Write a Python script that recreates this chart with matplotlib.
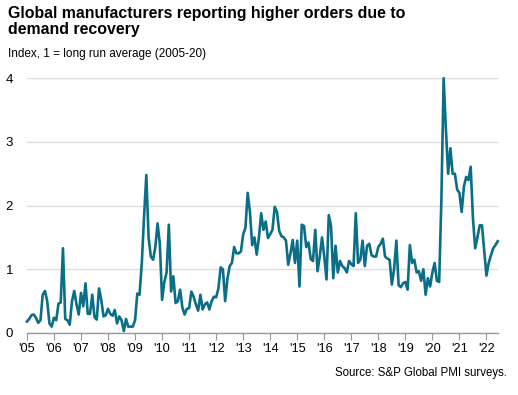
import numpy as np
import matplotlib
matplotlib.use('Agg')
import matplotlib.pyplot as plt
from matplotlib import font_manager

# monthly index values, Jan 2005 .. Jun 2022
values = [
    # 2005
    0.18, 0.22, 0.28, 0.29, 0.24, 0.16, 0.20, 0.60, 0.66, 0.50, 0.15, 0.10,
    # 2006
    0.24, 0.20, 0.46, 0.48, 1.33, 0.22, 0.20, 0.13, 0.50, 0.66, 0.45, 0.29,
    # 2007
    0.63, 0.42, 0.78, 0.30, 0.30, 0.60, 0.25, 0.21, 0.70, 0.52, 0.26, 0.28,
    # 2008
    0.38, 0.30, 0.27, 0.36, 0.15, 0.26, 0.20, 0.03, 0.22, 0.10, 0.10, 0.10,
    # 2009
    0.20, 0.62, 0.60, 1.10, 1.83, 2.48, 1.50, 1.20, 1.15, 1.35, 1.72, 1.40,
    # 2010
    0.52, 0.80, 0.95, 1.70, 0.65, 0.89, 0.47, 0.50, 0.68, 0.40, 0.29, 0.38,
    # 2011
    0.39, 0.65, 0.57, 0.45, 0.35, 0.60, 0.37, 0.45, 0.48, 0.37, 0.50, 0.57,
    # 2012
    0.56, 0.70, 1.03, 1.00, 0.50, 0.85, 1.05, 1.10, 1.35, 1.25, 1.25, 1.28,
    # 2013
    1.55, 1.65, 2.20, 1.90, 1.38, 1.50, 1.23, 1.50, 1.88, 1.62, 1.75, 1.49,
    # 2014
    1.55, 1.62, 1.98, 1.90, 1.60, 1.52, 1.50, 1.45, 1.07, 1.25, 1.46, 1.10,
    # 2015
    1.45, 0.73, 1.70, 1.68, 1.35, 1.42, 1.16, 1.13, 1.62, 0.97, 1.20, 1.50,
    # 2016
    1.20, 0.84, 1.85, 1.68, 0.86, 1.37, 0.95, 1.13, 1.05, 1.02, 0.95, 1.13,
    # 2017
    1.08, 1.05, 1.88, 1.10, 1.15, 1.45, 1.05, 1.37, 1.40, 1.22, 1.20, 1.20,
    # 2018
    1.35, 1.40, 1.48, 1.20, 1.17, 1.15, 0.76, 1.00, 1.45, 0.75, 0.72, 0.78,
    # 2019
    0.80, 0.68, 1.38, 1.10, 1.15, 0.95, 0.97, 0.82, 1.00, 0.60, 0.86, 0.73,
    # 2020
    0.95, 1.10, 0.82, 0.80, 2.10, 4.00, 3.20, 2.50, 2.90, 2.50, 2.50, 2.25,
    # 2021
    2.20, 1.90, 2.30, 2.45, 2.40, 2.61, 1.80, 1.33, 1.50, 1.69, 1.69, 1.30,
    # 2022
    0.90, 1.10, 1.22, 1.33, 1.38, 1.44,
]
years = list(range(2005, 2023))
year_labels = ["'%02d" % (y % 100) for y in years]
y_ticks = [0, 1, 2, 3, 4]

names = {f.name for f in font_manager.fontManager.ttflist}
narrow = 'Liberation Sans Narrow' if 'Liberation Sans Narrow' in names else 'Liberation Sans'

t = 2005 + np.arange(len(values)) / 12.0

fig = plt.figure(figsize=(5.18, 3.95), dpi=100)
ax = fig.add_axes([0.052, 0.157, 0.909, 0.645])

ax.plot(t, values, color='#0b6e87', lw=1.9, solid_joinstyle='round', zorder=3, clip_on=False)

ax.set_xlim(2005, 2022.42)
ax.set_ylim(0, 4)
ax.set_yticks(y_ticks)
ax.set_yticklabels([str(v) for v in y_ticks], fontsize=9.5, family=narrow)
ax.set_xticks(years)
ax.set_xticklabels(year_labels, fontsize=9.2, family=narrow)

for s in ['top', 'right', 'left']:
    ax.spines[s].set_visible(False)
ax.spines['bottom'].set_color('#999999')
ax.spines['bottom'].set_linewidth(1)
ax.grid(axis='y', color='#dddddd', lw=1)
ax.set_axisbelow(True)
ax.tick_params(axis='y', length=0, pad=10)
ax.tick_params(axis='x', length=5, color='#999999', pad=2)

fig.text(0.016, 0.985, 'Global manufacturers reporting higher orders due to\ndemand recovery',
         fontsize=11.4, fontweight='bold', family='Liberation Sans', va='top', ha='left',
         linespacing=1.05)
fig.text(0.016, 0.855, 'Index, 1 = long run average (2005-20)', fontsize=8.5,
         family=narrow, va='baseline', ha='left')
fig.text(0.979, 0.048, 'Source: S&P Global PMI surveys.', fontsize=8.3,
         family=narrow, va='baseline', ha='right')

fig.savefig('out.png', dpi=100)
